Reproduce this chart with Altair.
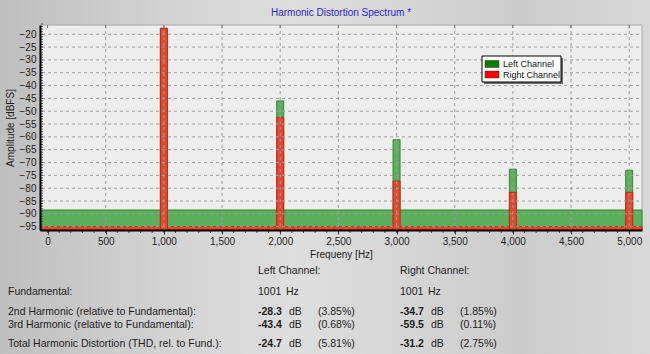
import altair as alt
import pandas as pd

# ---------------- data ----------------
freqs = [1000, 2000, 3000, 4000, 5000]
left_db = [-17.7, -46.0, -61.1, -72.6, -73.0]
right_db = [-17.7, -52.4, -77.2, -81.6, -81.6]
floor_levels = [-88.5, -95.0]          # Left, Right noise floor
channels = ["Left Channel", "Right Channel"]

y_ticks = list(range(-20, -96, -5))
y_minor = list(range(-16, -97, -1))
x_ticks = list(range(0, 5001, 500))
x_minor = list(range(0, 5001, 100))

fund_hz = [1001, 1001]
h2_db = [-28.3, -34.7]
h2_pct = [3.85, 1.85]
h3_db = [-43.4, -59.5]
h3_pct = [0.68, 0.11]
thd_db = [-24.7, -31.2]
thd_pct = [5.81, 2.75]
row_labels = ["Fundamental:", "2nd Harmonic (relative to Fundamental):",
              "3rd Harmonic (relative to Fundamental):",
              "Total Harmonic Distortion (THD, rel. to Fund.):"]
title_text = "Harmonic Distortion Spectrum *"

# ---------------- styles / layout ----------------
W, H = 602, 205
PAD = {"left": 40, "top": 25, "right": 8, "bottom": 124}
FONT = "Liberation Sans"
GREEN, GREEN_D = "#5cb05c", "#2f8a2f"
RED, RED_D = "#e4482e", "#c22c18"
LEG_COLORS = ["#008000", "#ff0000"]
TXT = "#1e1e1e"
GRID = "#9c9c9c"
Y_MIN, Y_MAX = -96.3, -16.4

xs = alt.Scale(domain=[-22, 5067], nice=False, zero=False)
ys = alt.Scale(domain=[Y_MIN, Y_MAX], nice=False, zero=False)
x_axis = alt.Axis(values=x_ticks, format=",d", title="Frequeny [Hz]", grid=False,
                  labelFontSize=10, titleFontSize=10, labelFont=FONT, titleFont=FONT,
                  labelColor=TXT, titleColor=TXT, titleFontWeight="normal",
                  domainColor="#000", domainWidth=2, tickColor="#333",
                  tickSize=4, labelPadding=2, titlePadding=3, zindex=1)
y_axis = alt.Axis(values=y_ticks, title="Amplitude [dBFS]", grid=False,
                  labelFontSize=10, titleFontSize=10, labelFont=FONT, titleFont=FONT,
                  labelColor=TXT, titleColor=TXT, titleFontWeight="normal",
                  domainColor="#000", domainWidth=2, tickSize=0,
                  labelPadding=4, titlePadding=4, zindex=1)

df = pd.DataFrame({"freq": freqs, "left": left_db, "right": right_db})
floor_df = pd.DataFrame({"channel": channels, "level": floor_levels})
one = pd.DataFrame({"k": [0]})

def Y(field):
    return alt.Y(field, type="quantitative", scale=ys, axis=y_axis)

def X(field):
    return alt.X(field, type="quantitative", scale=xs, axis=x_axis)

BASE = alt.Y2(datum=Y_MIN)
layers = []

# ---------------- brushed-metal background & plot area ----------------
metal = alt.LinearGradient(
    gradient="linear", x1=0, y1=0, x2=1, y2=0,
    stops=[alt.GradientStop(color="#bfbfbf", offset=0),
           alt.GradientStop(color="#d2d2d2", offset=0.25),
           alt.GradientStop(color="#dedede", offset=0.45),
           alt.GradientStop(color="#d4d4d4", offset=0.65),
           alt.GradientStop(color="#cccccc", offset=0.8),
           alt.GradientStop(color="#d8d8d8", offset=1)])
layers.append(alt.Chart(one).mark_rect(fill=metal).encode(
    x=alt.value(-PAD["left"]), x2=alt.value(W + PAD["right"]),
    y=alt.value(-PAD["top"]), y2=alt.value(H + PAD["bottom"])))
layers.append(alt.Chart(one).mark_rect(fill="#ededed", stroke="#a8a8a8", strokeWidth=1).encode(
    x=alt.value(0), x2=alt.value(W), y=alt.value(0), y2=alt.value(H)))

# ---------------- spectrum ----------------
layers.append(alt.Chart(floor_df).transform_filter(
    alt.datum.channel == channels[0]).mark_rect(
    fill=GREEN, stroke=GREEN_D, strokeWidth=1).encode(
    x=alt.value(1), x2=alt.value(W), y=Y("level"), y2=BASE))
layers.append(alt.Chart(df).mark_bar(
    size=7, fill=GREEN, stroke=GREEN_D, strokeWidth=1).encode(
    x=X("freq"), y=Y("left"), y2=BASE))
layers.append(alt.Chart(floor_df).transform_filter(
    alt.datum.channel == channels[1]).mark_rect(
    fill=RED, stroke=RED_D, strokeWidth=1).encode(
    x=alt.value(1), x2=alt.value(W), y=Y("level"), y2=BASE))
layers.append(alt.Chart(df).mark_bar(
    size=7, fill=RED, stroke=RED_D, strokeWidth=1).encode(
    x=X("freq"), y=Y("right"), y2=BASE))

# ---------------- grid (drawn over the spectrum, as in the original) ----------------
layers.append(alt.Chart(pd.DataFrame({"v": y_ticks})).mark_rule(
    color=GRID, strokeDash=[3, 3], strokeWidth=1).encode(
    y=Y("v"), x=alt.value(2), x2=alt.value(W)))
layers.append(alt.Chart(pd.DataFrame({"f": x_ticks[1:]})).mark_rule(
    color=GRID, strokeDash=[3, 3], strokeWidth=1).encode(
    x=X("f"), y=alt.value(0), y2=alt.value(H)))
# minor ticks
layers.append(alt.Chart(pd.DataFrame({"f": x_minor})).mark_rule(
    color="#444", strokeWidth=1).encode(
    x=X("f"), y=alt.value(H + 1), y2=alt.value(H + 3)))
layers.append(alt.Chart(pd.DataFrame({"f": x_ticks})).mark_rule(
    color="#777", strokeWidth=1).encode(
    x=X("f"), y=alt.value(0), y2=alt.value(3)))
layers.append(alt.Chart(pd.DataFrame({"v": y_minor})).mark_rule(
    color="#555", strokeWidth=1).encode(
    y=Y("v"), x=alt.value(1), x2=alt.value(3)))

# ---------------- title ----------------
layers.append(alt.Chart(one).mark_text(
    text=title_text, align="center", baseline="middle", font=FONT, fontSize=10,
    color="#2828c8").encode(x=alt.value(W / 2), y=alt.value(-12)))

# ---------------- legend box ----------------
LX, LY, LW, LH = 442, 31, 79, 26
layers.append(alt.Chart(one).mark_rect(fill="#6a6a6a").encode(
    x=alt.value(LX + 2), x2=alt.value(LX + LW + 2),
    y=alt.value(LY + 2), y2=alt.value(LY + LH + 2)))
layers.append(alt.Chart(one).mark_rect(fill="white", stroke="black", strokeWidth=1).encode(
    x=alt.value(LX), x2=alt.value(LX + LW), y=alt.value(LY), y2=alt.value(LY + LH)))
for i, (lab, col) in enumerate(zip(channels, LEG_COLORS)):
    yc = LY + 8 + i * 10.5
    layers.append(alt.Chart(one).mark_rect(fill=col, stroke="#333", strokeWidth=0.5).encode(
        x=alt.value(LX + 3), x2=alt.value(LX + 17),
        y=alt.value(yc - 3.5), y2=alt.value(yc + 3.5)))
    layers.append(alt.Chart(one).mark_text(
        text=lab, align="left", baseline="middle", font=FONT, fontSize=9,
        color="#111").encode(x=alt.value(LX + 21), y=alt.value(yc)))

# ---------------- results table ----------------
def txt(s, x, y, bold=False):
    return alt.Chart(one).mark_text(
        text=s, align="left", baseline="middle", font=FONT, fontSize=10.5,
        fontWeight="bold" if bold else "normal", color=TXT).encode(
        x=alt.value(x), y=alt.value(y))

COLS = [218, 360]
ROWS_Y = [267, 287, 300, 319]
HEAD_Y = 246
for c, ch in zip(COLS, channels):
    layers.append(txt(ch + ":", c, HEAD_Y))
for lab, ry in zip(row_labels, ROWS_Y):
    layers.append(txt(lab, -32, ry))
for j, c in enumerate(COLS):
    layers.append(txt(str(fund_hz[j]), c, ROWS_Y[0]))
    layers.append(txt("Hz", c + 28, ROWS_Y[0]))
    for vals, pcts, ry in [(h2_db, h2_pct, ROWS_Y[1]), (h3_db, h3_pct, ROWS_Y[2]),
                           (thd_db, thd_pct, ROWS_Y[3])]:
        layers.append(txt(f"{vals[j]:.1f}", c, ry, bold=True))
        layers.append(txt("dB", c + 31, ry))
        layers.append(txt(f"({pcts[j]:.2f}%)", c + 60, ry))

chart = alt.layer(*layers).properties(
    width=W, height=H,
    autosize=alt.AutoSizeParams(type="none"),
    padding=PAD,
).configure(background="#d2d2d2").configure_view(stroke=None)

chart.save("out.html", embed_options={"renderer": "svg", "actions": False})
